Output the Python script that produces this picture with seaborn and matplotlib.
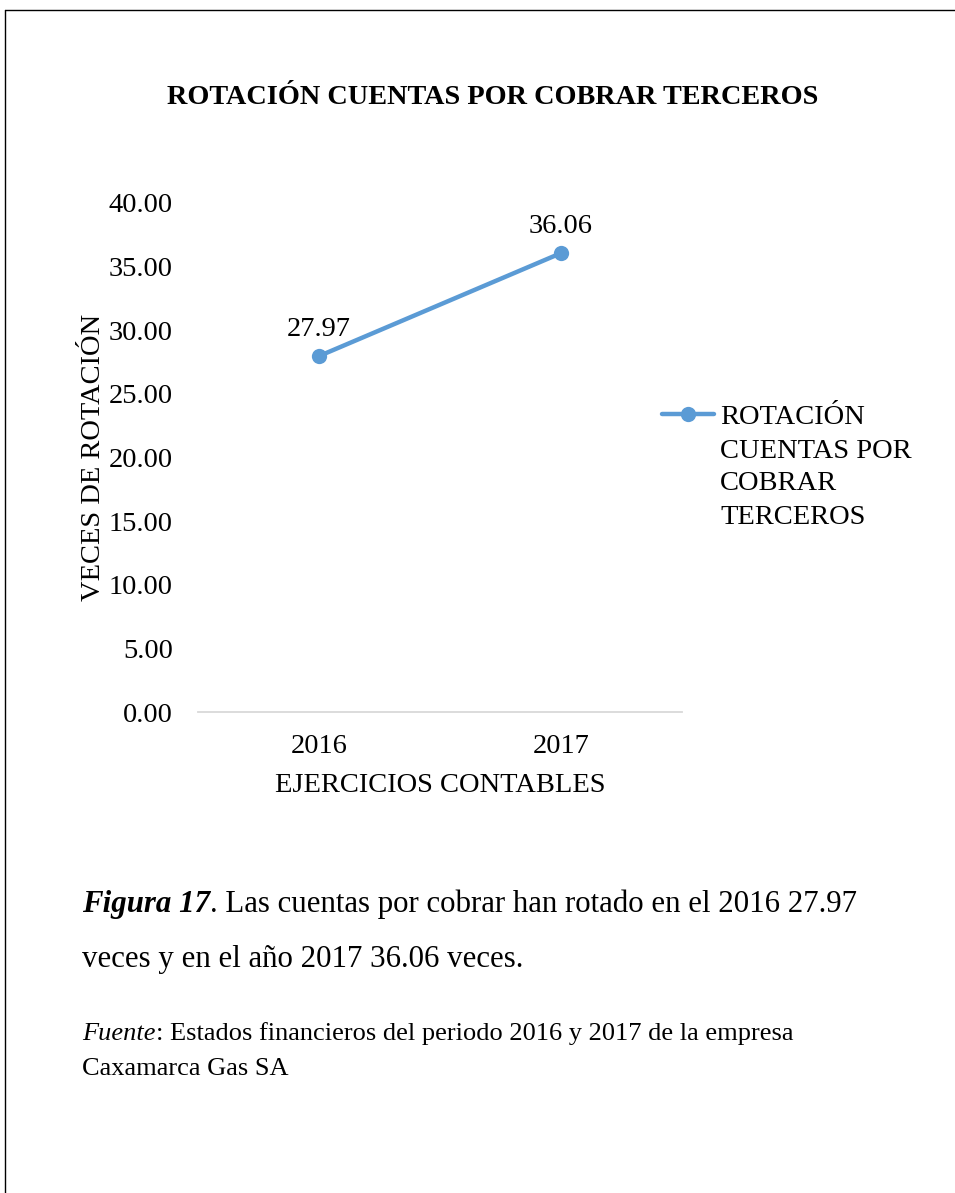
import matplotlib
matplotlib.use("Agg")
import matplotlib.pyplot as plt
import seaborn as sns
import pandas as pd
from matplotlib.lines import Line2D

years = ["2016", "2017"]
values = [27.97, 36.06]
title = "ROTACIÓN CUENTAS POR COBRAR TERCEROS"
xlabel = "EJERCICIOS CONTABLES"
ylabel = "VECES DE ROTACIÓN"
yticks = [0, 5, 10, 15, 20, 25, 30, 35, 40]
legend_lines = ["ROTACIÓN", "CUENTAS POR", "COBRAR", "TERCEROS"]
caption_bold = "Figura 17"
caption_rest = ". Las cuentas por cobrar han rotado en el 2016 27.97"
caption_line2 = "veces y en el año 2017 36.06 veces."
source_it = "Fuente"
source_rest = ": Estados financieros del periodo 2016 y 2017 de la empresa"
source_line2 = "Caxamarca Gas SA"

sns.set_theme(style="white")
plt.rcParams["font.family"] = ["Liberation Serif", "DejaVu Serif"]
plt.rcParams["text.color"] = "black"
plt.rcParams["axes.labelcolor"] = "black"
plt.rcParams["xtick.color"] = "black"
plt.rcParams["ytick.color"] = "black"

W, H = 955, 1193
fig = plt.figure(figsize=(W / 100, H / 100), dpi=100)
fig.patch.set_facecolor("white")

def fx(px):
    return px / W

def fy(py):
    return 1 - py / H

FS = 20.5
ax = fig.add_axes([fx(198), fy(712), (682 - 198) / W, (712 - 203) / H])

df = pd.DataFrame({"year": years, "value": values})
color = "#5B9BD5"
sns.lineplot(data=df, x="year", y="value", ax=ax, color=color, linewidth=3.2,
             marker="o", markersize=11, markeredgewidth=0, sort=False)

ax.set_xlim(-0.5, 1.5)
ax.set_ylim(0, 40)
ax.set_yticks(yticks)
ax.set_yticklabels([f"{v:.2f}" for v in yticks], fontsize=FS)
ax.set_xticks(range(len(years)))
ax.set_xticklabels(years, fontsize=FS)
ax.tick_params(axis="both", length=0, colors="black")
ax.tick_params(axis="y", pad=18)
ax.tick_params(axis="x", pad=16)
for s in ["top", "right", "left"]:
    ax.spines[s].set_visible(False)
ax.spines["bottom"].set_color("#D9D9D9")
ax.spines["bottom"].set_linewidth(1.3)
ax.grid(False)
ax.set_xlabel(xlabel, fontsize=FS, labelpad=10)
ax.set_ylabel(ylabel, fontsize=FS, labelpad=2)

for i, v in enumerate(values):
    ax.annotate(f"{v:.2f}", (i, v), xytext=(0, 10), textcoords="offset points",
                ha="center", va="bottom", fontsize=FS)

handle = Line2D([], [], color=color, linewidth=3.2, marker="o", markersize=11,
                markeredgewidth=0)
leg = ax.legend([handle], [legend_lines[0]], loc="center left",
                bbox_to_anchor=(fx(662), fy(417)), bbox_transform=fig.transFigure,
                frameon=False, fontsize=FS, handlelength=1.83, handletextpad=0.2,
                borderpad=0, borderaxespad=0)
for k, line in enumerate(legend_lines[1:], start=1):
    fig.text(fx(720), fy(418 + 33 * k), line, fontsize=FS, ha="left", va="center")

fig.text(fx(493), fy(98), title, fontsize=20.3, fontweight="bold",
         ha="center", va="center")

# caption with mixed styles
fig.canvas.draw()
r = fig.canvas.get_renderer()
CS = 22.2
t1 = fig.text(fx(82), fy(912), caption_bold, fontsize=CS, fontweight="bold",
              fontstyle="italic", ha="left", va="baseline")
bb = t1.get_window_extent(renderer=r)
fig.text(bb.x1 / W, fy(912), caption_rest, fontsize=CS, ha="left", va="baseline")
fig.text(fx(82), fy(967), caption_line2, fontsize=CS, ha="left", va="baseline")

SS = 19
t2 = fig.text(fx(82), fy(1040), source_it, fontsize=SS, fontstyle="italic",
              ha="left", va="baseline")
bb2 = t2.get_window_extent(renderer=r)
fig.text(bb2.x1 / W, fy(1040), source_rest, fontsize=SS, ha="left", va="baseline")
fig.text(fx(82), fy(1075), source_line2, fontsize=SS, ha="left", va="baseline")

# page frame
fig.add_artist(Line2D([fx(5), fx(5)], [fy(10), 0], transform=fig.transFigure,
                      color="black", linewidth=1.0))
fig.add_artist(Line2D([fx(5), 1], [fy(10), fy(10)], transform=fig.transFigure,
                      color="black", linewidth=1.0))

fig.savefig("out.png", dpi=100, facecolor="white")
